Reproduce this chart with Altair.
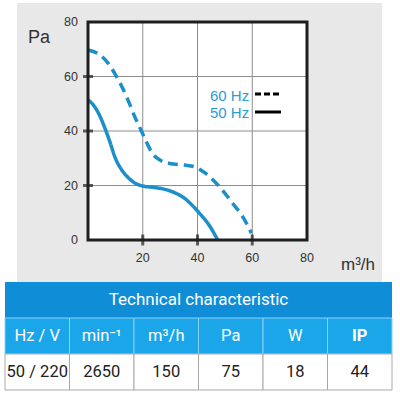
import altair as alt
import pandas as pd

# ---------------- data ----------------
series_names = ["60 Hz", "50 Hz"]

flow_60 = [0, 4.4, 7.4, 10.4, 14.1, 17.1, 19.5, 21.3, 23.1, 26.2, 29.8, 35.3, 38.9, 42.5, 48, 52.8, 56.5, 59.7]
pa_60 = [69.7, 67.9, 64.8, 60, 52.6, 45.2, 40, 36.1, 32.4, 29.4, 28.1, 27.5, 26.9, 24.8, 19.6, 13.5, 8.6, 2.5]

flow_50 = [0, 2, 4, 6, 8, 10, 12, 14, 17, 20, 24, 28, 32, 35, 38, 41, 44, 47.4]
pa_50 = [51.4, 49.5, 46.2, 41.5, 36, 30, 26.2, 23.6, 21, 19.8, 19.3, 18.6, 17.2, 15.5, 12.8, 9.5, 5.8, 0]

x_labels = [20, 40, 60, 80]
y_labels = [0, 20, 40, 60, 80]
tick_values = [20, 40, 60]
grid_values = [20, 40, 60]
x_title = "m\u00b3/h"
y_title = "Pa"

table_title = "Technical characteristic"
table_headers = ["Hz / V", "min\u207b\u00b9", "m\u00b3/h", "Pa", "W", "IP"]
table_values = ["50 / 220", "2650", "150", "75", "18", "44"]

# ---------------- styles ----------------
W, H = 219, 218
FONT = "Liberation Sans"
TFONT = "Roboto"
BLUE = "#1b8fca"
LEG_BLUE = "#2b9bd6"
INK = "#1e1e1e"
TXT = "#333333"

xs = alt.Scale(domain=[0, 80], nice=False, zero=False)
ys = alt.Scale(domain=[0, 80], nice=False, zero=False)
one = pd.DataFrame({"k": [0]})

# ---------------- main plot ----------------
panel = alt.Chart(one).mark_rect(color="#e8e8e8").encode(
    x=alt.value(-71), x2=alt.value(294), y=alt.value(-19), y2=alt.value(260))
plot_bg = alt.Chart(one).mark_rect(color="white").encode(
    x=alt.value(0), x2=alt.value(W), y=alt.value(0), y2=alt.value(H))

grid_df = pd.DataFrame({"v": grid_values})
vgrid = alt.Chart(grid_df).mark_rule(color="#8c8c8c", strokeWidth=1).encode(
    x=alt.X("v:Q", scale=xs, axis=None))
hgrid = alt.Chart(grid_df).mark_rule(color="#8c8c8c", strokeWidth=1).encode(
    y=alt.Y("v:Q", scale=ys, axis=None))

curve_df = pd.DataFrame({
    "series": [series_names[0]] * len(flow_60) + [series_names[1]] * len(flow_50),
    "flow": flow_60 + flow_50,
    "pa": pa_60 + pa_50,
})
curves = alt.Chart(curve_df).mark_line(color=BLUE, strokeWidth=3.5, interpolate="monotone",
                                       strokeCap="butt").encode(
    x=alt.X("flow:Q", scale=xs, axis=None),
    y=alt.Y("pa:Q", scale=ys, axis=None),
    strokeDash=alt.StrokeDash("series:N",
                              scale=alt.Scale(domain=series_names, range=[[10, 6], [1, 0]]),
                              legend=None),
)

frame = alt.Chart(one).mark_rect(fillOpacity=0, stroke=INK, strokeWidth=3).encode(
    x=alt.value(0), x2=alt.value(W), y=alt.value(0), y2=alt.value(H))

tick_df = pd.DataFrame({"v": tick_values, "base": [0] * len(tick_values)})
xticks = alt.Chart(tick_df).mark_tick(orient="vertical", size=11, thickness=3, color=INK).encode(
    x=alt.X("v:Q", scale=xs, axis=None), y=alt.Y("base:Q", scale=ys, axis=None))
yticks = alt.Chart(tick_df).mark_tick(orient="horizontal", size=10, thickness=3, color=INK).encode(
    y=alt.Y("v:Q", scale=ys, axis=None), x=alt.X("base:Q", scale=xs, axis=None))

xlab_df = pd.DataFrame({"v": x_labels, "base": [0] * len(x_labels)})
ylab_df = pd.DataFrame({"v": y_labels, "base": [0] * len(y_labels)})
xlabels = alt.Chart(xlab_df).mark_text(align="center", baseline="top", dy=12, font=FONT,
                                       fontSize=12.5, color=TXT).encode(
    x=alt.X("v:Q", scale=xs, axis=None), y=alt.Y("base:Q", scale=ys, axis=None), text="v:Q")
ylabels = alt.Chart(ylab_df).mark_text(align="right", baseline="middle", dx=-10, font=FONT,
                                       fontSize=12.5, color=TXT).encode(
    y=alt.Y("v:Q", scale=ys, axis=None), x=alt.X("base:Q", scale=xs, axis=None), text="v:Q")

ytitle = alt.Chart(one).mark_text(text=y_title, align="left", baseline="alphabetic", font=FONT,
                                  fontSize=18, color=TXT).encode(x=alt.value(-60), y=alt.value(21))
xtitle = alt.Chart(one).mark_text(text=x_title, align="left", baseline="alphabetic", font=FONT,
                                  fontSize=17, color=TXT).encode(x=alt.value(253), y=alt.value(248))

leg60_txt = alt.Chart(one).mark_text(text=series_names[0], align="left", baseline="alphabetic",
                                     font=FONT, fontSize=15, color=LEG_BLUE).encode(
    x=alt.value(122), y=alt.value(79))
leg50_txt = alt.Chart(one).mark_text(text=series_names[1], align="left", baseline="alphabetic",
                                     font=FONT, fontSize=15, color=LEG_BLUE).encode(
    x=alt.value(122), y=alt.value(96))
leg60_line = alt.Chart(one).mark_rule(color="black", strokeWidth=3, strokeDash=[6, 3]).encode(
    x=alt.value(167), x2=alt.value(192), y=alt.value(72))
leg50_line = alt.Chart(one).mark_rule(color="black", strokeWidth=3).encode(
    x=alt.value(167), x2=alt.value(193), y=alt.value(90))

main_layers = [panel, plot_bg, vgrid, hgrid, curves, frame, xticks, yticks, xlabels, ylabels,
               ytitle, xtitle, leg60_txt, leg50_txt, leg60_line, leg50_line]

# ---------------- table ----------------
n = len(table_headers)
tx = alt.Scale(domain=[0, n], range=[-83, 304], nice=False, zero=False)
ty = alt.Scale(domain=[0, 3], range=[260, 368], nice=False, zero=False)

title_df = pd.DataFrame({"label": [table_title], "c0": [0], "c1": [n], "r0": [0], "r1": [1]})
cells_df = pd.DataFrame({
    "col": list(range(n)) * 2,
    "row": [1] * n + [2] * n,
    "label": table_headers + table_values,
})

title_rect = alt.Chart(title_df).mark_rect(color="#0f8ed7").encode(
    x=alt.X("c0:Q", scale=tx, axis=None), x2="c1:Q",
    y=alt.Y("r0:Q", scale=ty, axis=None), y2="r1:Q")
title_text = alt.Chart(title_df).mark_text(font=TFONT, fontSize=17, color="white").transform_calculate(
    cx="(datum.c0 + datum.c1) / 2", cy="(datum.r0 + datum.r1) / 2").encode(
    x=alt.X("cx:Q", scale=tx, axis=None), y=alt.Y("cy:Q", scale=ty, axis=None), text="label:N")

cells = alt.Chart(cells_df).transform_calculate(
    c1="datum.col + 1", r1="datum.row + 1", cx="datum.col + 0.5", cy="datum.row + 0.5")

head_rects = cells.transform_filter("datum.row == 1").mark_rect(
    fill="#1ca6ea", stroke="#8ad0f2", strokeWidth=1).encode(
    x=alt.X("col:Q", scale=tx, axis=None), x2="c1:Q",
    y=alt.Y("row:Q", scale=ty, axis=None), y2="r1:Q")
val_rects = cells.transform_filter("datum.row == 2").mark_rect(
    fill="white", stroke="#a8a8a8", strokeWidth=1).encode(
    x=alt.X("col:Q", scale=tx, axis=None), x2="c1:Q",
    y=alt.Y("row:Q", scale=ty, axis=None), y2="r1:Q")

head_text = cells.transform_filter(f"datum.row == 1 && datum.col < {n - 1}").mark_text(
    font=TFONT, fontSize=16.5, color="white").encode(
    x=alt.X("cx:Q", scale=tx, axis=None), y=alt.Y("cy:Q", scale=ty, axis=None), text="label:N")
head_text_bold = cells.transform_filter(f"datum.row == 1 && datum.col == {n - 1}").mark_text(
    font=TFONT, fontSize=16.5, fontWeight="bold", color="white").encode(
    x=alt.X("cx:Q", scale=tx, axis=None), y=alt.Y("cy:Q", scale=ty, axis=None), text="label:N")
val_text = cells.transform_filter("datum.row == 2").mark_text(
    font=TFONT, fontSize=16.5, color="#222222").encode(
    x=alt.X("cx:Q", scale=tx, axis=None), y=alt.Y("cy:Q", scale=ty, axis=None), text="label:N")

table_layers = [title_rect, head_rects, val_rects, title_text, head_text, head_text_bold, val_text]

chart = alt.layer(*main_layers, *table_layers).resolve_scale(
    x="independent", y="independent").properties(
    width=W, height=H,
    autosize=alt.AutoSizeParams(type="none"),
    padding={"left": 88, "top": 22, "right": 400 - 88 - W, "bottom": 400 - 22 - H},
    background="white",
).configure_view(strokeWidth=0)

chart.save("out.html", embed_options={"renderer": "svg", "actions": False})
